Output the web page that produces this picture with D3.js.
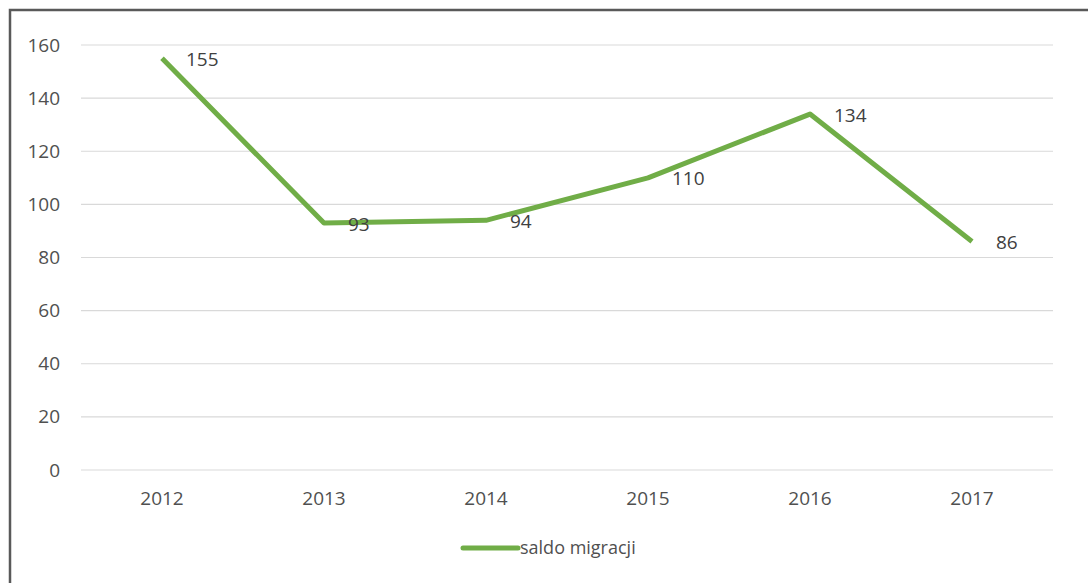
<!DOCTYPE html>
<html>
<head>
<meta charset="utf-8">
<script src="https://cdn.jsdelivr.net/npm/d3@7"></script>
<style>
  body { margin: 0; background: #fff; }
  svg { display: block; }
</style>
</head>
<body>
<script>
const width = 1088;
const height = 583;

const years = ["2012", "2013", "2014", "2015", "2016", "2017"];
const saldo = [155, 93, 94, 110, 134, 86];
const yTicks = [0, 20, 40, 60, 80, 100, 120, 140, 160];
const seriesName = "saldo migracji";

const green = "#70ad47";
const textColor = "#505050";
const font = "'Open Sans', 'Noto Sans', sans-serif";

const svg = d3.select("body")
    .append("svg")
    .attr("width", width)
    .attr("height", height);

// outer frame
svg.append("rect")
    .attr("x", 10).attr("y", 10)
    .attr("width", width + 20).attr("height", height + 20)
    .attr("fill", "#fff")
    .attr("stroke", "#595959")
    .attr("stroke-width", 2.5);

const x = d3.scaleBand()
    .domain(years)
    .range([81, 1053]);

const y = d3.scaleLinear()
    .domain([0, 160])
    .range([470, 45]);

// gridlines
svg.append("g")
    .selectAll("line")
    .data(yTicks)
    .join("line")
    .attr("x1", 81).attr("x2", 1053)
    .attr("y1", d => y(d)).attr("y2", d => y(d))
    .attr("stroke", "#d9d9d9")
    .attr("stroke-width", 1.2);

// y axis labels
const yAxis = svg.append("g")
    .attr("transform", "translate(60,0)")
    .call(d3.axisLeft(y).tickValues(yTicks).tickSize(0).tickPadding(0));
yAxis.select(".domain").remove();
yAxis.selectAll("text")
    .attr("fill", textColor)
    .style("font-family", font)
    .style("font-size", "19px");

// x axis labels
const xAxis = svg.append("g")
    .attr("transform", "translate(0,491)")
    .call(d3.axisBottom(x).tickSize(0).tickPadding(0));
xAxis.select(".domain").remove();
xAxis.selectAll("text")
    .attr("fill", textColor)
    .style("font-family", font)
    .style("font-size", "19px");

const pts = years.map((yr, i) => ({ year: yr, value: saldo[i] }));

const line = d3.line()
    .x(d => x(d.year) + x.bandwidth() / 2)
    .y(d => y(d.value));

svg.append("path")
    .datum(pts)
    .attr("d", line)
    .attr("fill", "none")
    .attr("stroke", green)
    .attr("stroke-width", 5)
    .attr("stroke-linejoin", "round");

// data labels
svg.append("g")
    .selectAll("text")
    .data(pts)
    .join("text")
    .attr("x", d => x(d.year) + x.bandwidth() / 2 + 24)
    .attr("y", d => y(d.value) + 1)
    .attr("dy", "0.35em")
    .attr("fill", "#404040")
    .style("font-family", font)
    .style("font-size", "19px")
    .text(d => d.value);

// legend
const legend = svg.append("g").attr("transform", "translate(463,548)");
legend.append("line")
    .attr("x1", 0).attr("x2", 55)
    .attr("y1", 0).attr("y2", 0)
    .attr("stroke", green)
    .attr("stroke-width", 5)
    .attr("stroke-linecap", "round");
legend.append("text")
    .attr("x", 57)
    .attr("y", 0)
    .attr("dy", "0.35em")
    .attr("fill", textColor)
    .style("font-family", font)
    .style("font-size", "18px")
    .text(seriesName);
</script>
</body>
</html>
